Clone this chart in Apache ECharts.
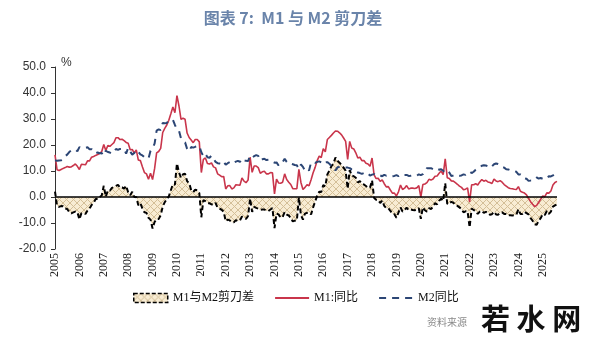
<!DOCTYPE html>
<html>
<head>
<meta charset="utf-8">
<script src="https://cdn.jsdelivr.net/npm/echarts@6/dist/echarts.min.js"></script>
<style>html,body{margin:0;padding:0;background:#fff;}#c{width:600px;height:346px;}</style>
</head>
<body>
<div id="c"></div>
<script>
// Tick labels (years) and monthly categories built from them (Jan 2005 - Aug 2025)
const years = ['2005','2006','2007','2008','2009','2010','2011','2012','2013','2014','2015','2016','2017','2018','2019','2020','2021','2022','2023','2024','2025'];
const lastYearMonths = 8;

// M1 year-on-year, %
const m1 = [
16.2,10.5,10.2,10.6,11.0,11.3,11.7,11.5,11.6,12.1,12.7,11.8,
10.6,12.6,12.5,12.4,13.9,13.9,15.3,15.6,16.0,16.3,16.8,17.5,
20.2,17.9,19.8,19.5,20.2,20.9,22.8,22.8,22.1,22.2,21.7,21.0,
20.7,18.2,18.3,16.9,18.1,14.2,14.0,11.6,9.4,8.9,6.8,9.1,
6.7,10.9,17.0,17.5,18.7,24.8,26.4,27.7,29.5,32.0,34.6,32.4,
39.0,35.0,29.9,30.3,29.9,24.6,22.9,21.9,20.9,22.1,22.1,21.2,
9.4,14.5,15.0,12.9,12.7,13.1,11.6,11.2,8.9,8.4,7.8,7.9,
3.1,4.3,4.4,3.1,3.5,4.7,4.6,4.5,7.3,6.1,5.5,6.5,
15.3,9.5,11.9,11.9,11.3,9.1,9.7,9.9,8.9,8.9,9.4,9.3,
1.2,6.9,5.4,5.3,5.7,8.9,6.7,5.7,4.8,3.2,3.2,3.2,
10.6,5.6,2.9,3.7,4.7,4.3,6.6,9.3,11.4,14.0,15.7,15.2,
18.6,17.4,22.1,22.9,23.7,24.6,25.4,25.3,24.7,23.9,22.7,21.4,
14.5,21.4,18.8,18.5,17.0,15.0,15.3,14.0,14.0,13.0,12.7,11.8,
15.0,8.5,7.1,7.2,6.0,6.6,5.1,3.9,4.0,2.7,1.5,1.5,
0.4,2.0,4.6,2.9,3.4,4.4,3.1,3.4,3.4,3.3,3.5,4.4,
0.0,4.8,5.0,5.5,6.8,6.5,6.9,8.0,8.1,9.1,10.0,8.6,
14.7,7.4,7.1,6.2,6.1,5.5,4.9,4.2,3.7,2.8,3.0,3.5,
-1.9,4.7,4.7,5.1,4.6,5.8,6.7,6.1,6.4,5.8,5.6,5.2,
6.9,6.2,5.9,6.3,5.7,4.8,4.2,3.6,3.3,3.2,3.0,2.9,
4.0,2.2,1.8,1.5,0.8,-0.5,-1.8,-2.8,-3.7,-3.2,-2.0,-0.8,
0.4,0.1,1.6,1.5,2.3,4.6,5.6,6.0
];

// M2 year-on-year, %
const m2 = [
14.1,13.9,14.0,14.1,14.6,15.7,16.3,17.3,17.9,18.0,18.3,17.6,
19.2,18.8,18.8,18.9,19.1,18.4,18.4,17.9,16.8,17.1,16.8,16.9,
15.9,17.8,17.3,17.1,16.7,17.1,18.5,18.1,18.5,18.5,18.5,16.7,
18.9,17.5,16.3,16.9,18.1,17.4,16.4,16.0,15.3,15.0,14.8,17.8,
18.8,20.5,25.5,26.0,25.7,28.5,28.4,28.5,29.3,29.4,29.7,27.7,
26.1,25.5,22.5,21.5,21.0,18.5,17.6,19.2,19.0,19.3,19.5,19.7,
17.2,15.7,16.6,15.3,15.1,15.9,14.7,13.5,13.0,12.9,12.7,13.6,
12.4,13.0,13.4,12.8,13.2,13.6,13.9,13.5,14.8,14.1,13.9,13.8,
15.9,15.2,15.7,16.1,15.8,14.0,14.5,14.7,14.2,14.3,14.2,13.6,
13.2,13.3,12.1,13.2,13.4,14.7,13.5,12.8,12.9,12.6,12.3,12.2,
10.8,12.5,11.6,10.1,10.8,10.2,13.3,13.3,13.1,13.5,13.7,13.3,
14.0,13.3,13.4,12.8,11.8,11.8,10.2,11.4,11.5,11.6,11.4,11.3,
11.3,11.1,10.6,10.5,9.6,9.4,9.2,8.9,9.2,8.8,9.1,8.2,
8.6,8.8,8.2,8.3,8.3,8.0,8.5,8.2,8.3,8.0,8.0,8.1,
8.4,8.0,8.6,8.5,8.5,8.5,8.1,8.2,8.4,8.4,8.2,8.7,
8.4,8.8,10.1,11.1,11.1,11.1,10.7,10.4,10.9,10.5,10.7,10.1,
9.4,10.1,9.4,8.1,8.3,8.6,8.3,8.2,8.3,8.7,8.5,9.0,
9.8,9.2,9.7,10.5,11.1,11.4,12.0,12.2,12.1,11.8,12.4,11.8,
12.6,12.9,12.7,12.4,11.6,11.3,10.7,10.6,10.3,10.3,10.0,9.7,
8.7,8.7,8.3,7.2,7.0,6.2,6.3,6.3,6.8,7.5,7.1,7.3,
7.0,7.0,7.0,8.0,7.9,8.3,8.8,8.8
];

// M1 - M2 scissors gap, percentage points
const gap = [
2.1,-3.4,-3.8,-3.5,-3.6,-4.4,-4.6,-5.8,-6.3,-5.9,-5.6,-5.8,
-8.6,-6.2,-6.3,-6.5,-5.2,-4.5,-3.1,-2.3,-0.8,-0.8,0.0,0.6,
4.3,0.1,2.5,2.4,3.5,3.8,4.3,4.7,3.6,3.7,3.2,4.3,
1.8,0.7,2.0,0.0,0.0,-3.2,-2.4,-4.4,-5.9,-6.1,-8.0,-8.7,
-12.1,-9.6,-8.5,-8.5,-7.0,-3.7,-2.0,-0.8,0.2,2.6,4.9,4.7,
12.9,9.5,7.4,8.8,8.9,6.1,5.3,2.7,1.9,2.8,2.6,1.5,
-7.8,-1.2,-1.6,-2.4,-2.4,-2.8,-3.1,-2.3,-4.1,-4.5,-4.9,-5.7,
-9.3,-8.7,-9.0,-9.7,-9.7,-8.9,-9.3,-9.0,-7.5,-8.0,-8.4,-7.3,
-0.6,-5.7,-3.8,-4.2,-4.5,-4.9,-4.8,-4.8,-5.3,-5.4,-4.8,-4.3,
-12.0,-6.4,-6.7,-7.9,-7.7,-5.8,-6.8,-7.1,-8.1,-9.4,-9.1,-9.0,
-0.2,-6.9,-8.7,-6.4,-6.1,-5.9,-6.7,-4.0,-1.7,0.5,2.0,1.9,
4.6,4.1,8.7,10.1,11.9,12.8,15.2,13.9,13.2,12.3,11.3,10.1,
3.2,10.3,8.2,8.0,7.4,5.6,6.1,5.1,4.8,4.2,3.6,3.6,
6.4,-0.3,-1.1,-1.1,-2.3,-1.4,-3.4,-4.3,-4.3,-5.3,-6.5,-6.6,
-8.0,-6.0,-4.0,-5.6,-5.1,-4.1,-5.0,-4.8,-5.0,-5.1,-4.7,-4.3,
-8.4,-4.0,-5.1,-5.6,-4.3,-4.6,-3.8,-2.4,-2.8,-1.4,-0.7,-1.5,
5.3,-2.7,-2.3,-1.9,-2.2,-3.1,-3.4,-4.0,-4.6,-5.9,-5.5,-5.5,
-11.7,-4.5,-5.0,-5.4,-6.5,-5.6,-5.3,-6.1,-5.7,-6.0,-6.8,-6.6,
-5.7,-6.7,-6.8,-6.1,-5.9,-6.5,-6.5,-7.0,-7.0,-7.1,-7.0,-6.8,
-4.7,-6.5,-6.5,-5.7,-6.2,-6.7,-8.1,-9.1,-10.5,-10.7,-9.1,-8.1,
-6.6,-6.9,-5.4,-6.5,-5.6,-3.7,-3.2,-2.8
];

const categories = [];
years.forEach(function (y, k) {
  const n = (k === years.length - 1) ? lastYearMonths : 12;
  for (let m = 1; m <= n; m++) categories.push(y + '-' + (m < 10 ? '0' + m : m));
});

// cross-hatch pattern for the scissors area
const pc = document.createElement('canvas');
pc.width = 7; pc.height = 7;
const px = pc.getContext('2d');
px.fillStyle = '#f8ecd3';
px.fillRect(0, 0, 7, 7);
px.strokeStyle = '#d4bf98';
px.lineWidth = 1;
px.beginPath();
px.moveTo(0, 0); px.lineTo(7, 7);
px.moveTo(7, 0); px.lineTo(0, 7);
px.stroke();
const hatch = { image: pc, repeat: 'repeat' };

const chart = echarts.init(document.getElementById('c'), null, { renderer: 'canvas' });
const serif = 'Liberation Serif, "Noto Sans CJK SC", serif';
chart.setOption({
  animation: false,
  backgroundColor: '#fff',
  title: {
    text: '图表 7:  M1 与 M2 剪刀差',
    left: 288, top: 5, textAlign: 'center',
    textStyle: { fontFamily: '"Noto Sans CJK SC", sans-serif', fontSize: 16, fontWeight: 'bold', color: '#6a84aa' }
  },
  grid: { left: 55, right: 43, top: 67, bottom: 97, containLabel: false },
  legend: {
    left: 128, top: 287, itemWidth: 34, itemHeight: 9, itemGap: 20,
    textStyle: { fontFamily: serif, fontSize: 12, color: '#111' },
    data: [
      { name: 'M1与M2剪刀差', icon: 'rect',
        itemStyle: { color: hatch, borderColor: '#000', borderWidth: 1.5, borderType: [4, 2] } },
      { name: 'M1:同比', itemStyle: { opacity: 0 } },
      { name: 'M2同比', itemStyle: { opacity: 0 } }
    ]
  },
  xAxis: [{
    type: 'category', data: categories, boundaryGap: false,
    axisLine: { show: false }, axisTick: { show: false }, splitLine: { show: false },
    axisLabel: {
      rotate: 90, margin: 4, fontFamily: serif, fontSize: 12, color: '#222',
      interval: function (idx) { return idx % 12 === 0; },
      formatter: function (v) { return v.slice(0, 4); }
    }
  }],
  yAxis: {
    type: 'value', min: -20, max: 50, interval: 10,
    axisLine: { show: true, lineStyle: { color: '#333', width: 1 } },
    axisTick: { show: true, length: 4, lineStyle: { color: '#333' } },
    splitLine: { show: false },
    axisLabel: { margin: 9, fontFamily: 'Liberation Sans, Arial, sans-serif', fontSize: 12, color: '#333',
      formatter: function (v) { return v.toFixed(1); } }
  },
  series: [
    {
      name: 'M1与M2剪刀差', type: 'line', data: gap, showSymbol: false, symbol: 'none',
      lineStyle: { color: '#000', width: 2, type: [5, 3] },
      itemStyle: { color: '#000' },
      areaStyle: { color: hatch, opacity: 1, origin: 0 },
      z: 2,
      markLine: {
        silent: true, symbol: 'none', label: { show: false },
        lineStyle: { color: '#000', width: 1.6, type: 'solid' },
        data: [{ yAxis: 0 }]
      }
    },
    {
      name: 'M1:同比', type: 'line', data: m1, showSymbol: false, symbol: 'none',
      lineStyle: { color: '#c9354b', width: 1.6 }, itemStyle: { color: '#c9354b' }, z: 3
    },
    {
      name: 'M2同比', type: 'line', data: m2, showSymbol: false, symbol: 'none',
      lineStyle: { color: '#2c4675', width: 2, type: [7, 6] }, itemStyle: { color: '#2c4675' }, z: 3
    }
  ],
  graphic: [
    { type: 'text', left: 61, top: 57, style: { text: '%', fontSize: 12, fill: '#333', fontFamily: 'Liberation Sans, sans-serif' } },
    { type: 'text', left: 427, top: 317, style: { text: '资料来源', fontSize: 10, fill: '#8a8a8a', fontFamily: '"Noto Sans CJK SC", sans-serif' } },
    { type: 'text', left: 481, top: 304, style: { text: '若 水 网', fontSize: 29, fontWeight: 'bold', fill: '#111', fontFamily: '"Noto Sans CJK SC", sans-serif' } }
  ]
});
</script>
</body>
</html>
